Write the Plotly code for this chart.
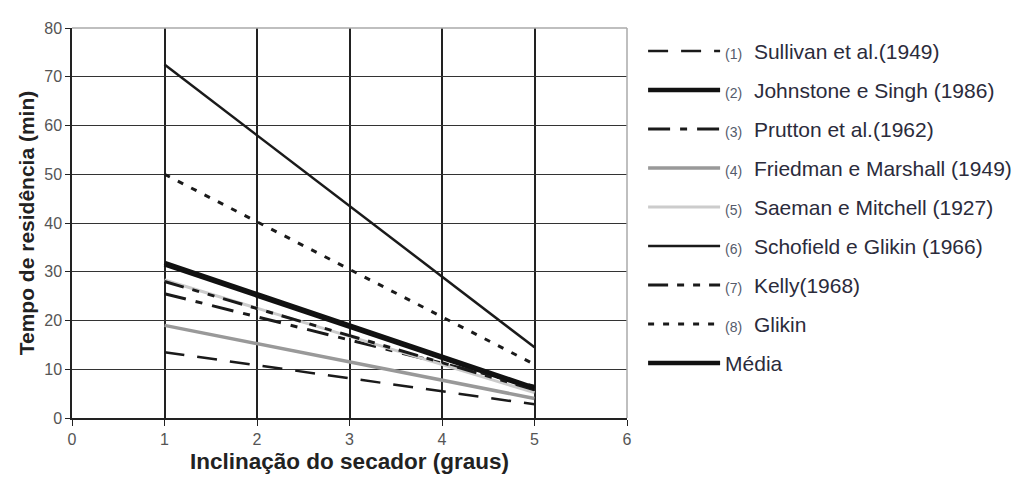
import plotly.graph_objects as go

x_incl = [1, 5]
sullivan = [13.5, 2.8]
johnstone = [31.5, 6.0]
prutton = [25.5, 6.5]
friedman = [19.0, 4.0]
saeman = [28.3, 5.2]
schofield = [72.5, 14.5]
kelly = [28.0, 5.8]
glikin = [50.0, 11.0]
media = [31.8, 6.2]

num_labels = ["(1)", "(2)", "(3)", "(4)", "(5)", "(6)", "(7)", "(8)", ""]
names = ["Sullivan et al.(1949)", "Johnstone e Singh (1986)", "Prutton et al.(1962)",
         "Friedman e Marshall (1949)", "Saeman e Mitchell (1927)", "Schofield e Glikin (1966)",
         "Kelly(1968)", "Glikin", "Média"]
series = [sullivan, johnstone, prutton, friedman, saeman, schofield, kelly, glikin, media]
styles = [
    dict(color="#1a1a1a", width=2.5, dash="20px,13px"),
    dict(color="#111111", width=4.5, dash="solid"),
    dict(color="#1a1a1a", width=3, dash="22px,10px,7px,10px"),
    dict(color="#999999", width=3.5, dash="solid"),
    dict(color="#cccccc", width=3, dash="solid"),
    dict(color="#1a1a1a", width=2.5, dash="solid"),
    dict(color="#1a1a1a", width=3, dash="20px,9px,7px,9px,7px,9px"),
    dict(color="#1a1a1a", width=3, dash="6px,9px"),
    dict(color="#111111", width=4.5, dash="solid"),
]

fig = go.Figure()
for i, (nl, nm, ys, st) in enumerate(zip(num_labels, names, series, styles)):
    label = (f"<span style='font-size:14px;color:#555b6b'>{nl}</span>  {nm}" if nl else nm)
    fig.add_trace(go.Scatter(x=x_incl, y=ys, mode="lines", name=label, line=st,
                             legendgroup=f"g{i}"))

fig.update_layout(
    width=1021, height=477,
    margin=dict(l=64, r=399, t=12, b=67),
    paper_bgcolor="white", plot_bgcolor="white",
    font=dict(family="Liberation Sans, Arial, sans-serif", color="#333333", size=16),
    showlegend=True,
    legend=dict(x=1.029, y=0.9925, xanchor="left", yanchor="top",
                font=dict(size=21, color="#2b2b3b"), itemwidth=72,
                tracegroupgap=8.7, bgcolor="rgba(0,0,0,0)"),
    xaxis=dict(range=[0, 6], dtick=1, showgrid=True, gridcolor="#222222", gridwidth=1.6,
               showline=True, linecolor="#222222", linewidth=1.5, ticks="outside",
               ticklen=6, tickcolor="#222222", zeroline=False,
               tickfont=dict(size=16, color="#555555"),
               title=dict(text="<b>Inclinação do secador (graus)</b>",
                          font=dict(size=22.5, color="#222222"), standoff=6)),
    yaxis=dict(range=[0, 80], dtick=10, showgrid=True, gridcolor="#333333", gridwidth=1.3,
               showline=True, linecolor="#222222", linewidth=1.5, ticks="outside",
               ticklen=5, tickcolor="#222222", zeroline=False,
               tickfont=dict(size=16, color="#555555"),
               title=dict(text="<b>Tempo de residência (min)</b>",
                          font=dict(size=21, color="#222222"), standoff=4)),
    shapes=[
        dict(type="line", xref="paper", yref="paper", x0=0, x1=1, y0=1, y1=1,
             line=dict(color="#aaaaaa", width=1.5), layer="above"),
        dict(type="line", xref="paper", yref="paper", x0=1, x1=1, y0=0, y1=1,
             line=dict(color="#aaaaaa", width=1.5), layer="above"),
    ],
)

fig.write_html("out.html")
